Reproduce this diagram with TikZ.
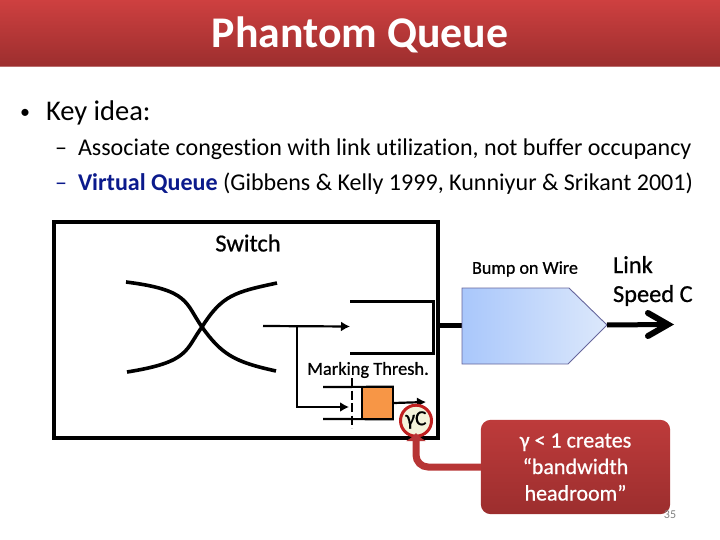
\documentclass[tikz,border=0pt]{standalone}
\usepackage{fontspec}
\setmainfont[Ligatures=NoCommon]{Carlito}
\newfontfamily\semib[Ligatures=NoCommon,FakeBold=0.7]{Carlito}
\usetikzlibrary{arrows.meta}
\definecolor{redtop}{HTML}{CE4040}
\definecolor{redbot}{HTML}{9C2E2E}
\definecolor{navy}{HTML}{0B1A8C}
\definecolor{capred}{HTML}{B73535}
\definecolor{ringred}{HTML}{C02020}
\definecolor{boxorange}{HTML}{F79646}
\definecolor{pl}{HTML}{A9C7FB}
\definecolor{pr}{HTML}{DCE8FB}
\tikzset{
  x=1pt,y=-1pt,
  flow/.style={line width=2.2pt,black,-{Latex[length=9pt,width=10pt]}},
  curve/.style={line width=3.6pt,black},
  txt/.style={inner sep=0pt,outer sep=0pt,text=black},
  body/.style={txt,anchor=base west,font=\fontsize{24.05}{28}\selectfont},
}
\begin{document}
\begin{tikzpicture}
\useasboundingbox (0,0) rectangle (720,540);
% title
\path[top color=redtop,bottom color=redbot,draw=none] (0,0) rectangle (720,66.5);
\draw[redbot!70!white,line width=.8pt] (0,66.5) -- (720,66.5);
\node[txt,text=white,font=\fontsize{43.8}{50}\selectfont\bfseries,anchor=base] (title) at (360,48) {Phantom Queue};
% bullets
\node[txt,anchor=base west,font=\fontsize{20}{30}\selectfont] (b0) at (20,119) {•};
\node[txt,anchor=base west,font=\fontsize{28.5}{33}\selectfont] (b1) at (46,121) {Key idea:};
\node[body] (d1) at (55,156) {–};
\node[body] (l1) at (78,156) {Associate congestion with link utilization, not buffer occupancy};
\node[body] (d2) at (55,191) {\textcolor{navy}{–}};
\node[body] (l2) at (78,191) {\textcolor{navy}{\bfseries Virtual Queue} (Gibbens \& Kelly 1999, Kunniyur \& Srikant 2001)};
% switch box
\node[draw=black,line width=4pt,minimum width=384pt,minimum height=215pt,inner sep=0pt] (sw) at (245.5,330) {};
\node[txt,font=\semib\fontsize{24.5}{28}\selectfont] (swt) at (248,243) {Switch};
% crossbar
\coordinate (a1) at (126,282); \coordinate (a2) at (276,371);
\coordinate (c1) at (127,372); \coordinate (c2) at (277,283);
\draw[curve] (a1) .. controls (190,290) and (185,303) .. (202,327) .. controls (222,355) and (235,362) .. (a2);
\draw[curve] (c1) .. controls (190,362) and (185,350) .. (202,327) .. controls (222,295) and (235,292) .. (c2);
% output queue
\coordinate (q1) at (350,301); \coordinate (q2) at (433,301); \coordinate (q3) at (433,353); \coordinate (q4) at (350,353);
\draw[line width=3pt,miter limit=10] (q1) -- (q2) -- (q3) -- (q4);
\coordinate (f0) at (263,326); \coordinate (f1) at (297,326); \coordinate (f2) at (350,326.5); \coordinate (f3) at (297,407); \coordinate (f4) at (349,407);
\draw[flow] (f0) -- (f2);
\draw[flow] (f1) -- (f3) -- (f4);
% marking
\node[txt,font=\semib\fontsize{18.4}{21}\selectfont] (mtt) at (368,370) {Marking Thresh.};
\node[draw=black,line width=1.5pt,fill=boxorange,minimum width=31pt,minimum height=31pt,inner sep=0pt] (ob) at (377.5,403) {};
\coordinate (s1) at (323,387); \coordinate (s2) at (323,419);
\draw[line width=2.2pt] (s1) -- (ob.north east);
\draw[line width=2.2pt] (s2) -- (ob.south east);
\coordinate (dt) at (352,378); \coordinate (db) at (352,428);
\draw[line width=2.4pt,dash pattern=on 9pt off 3.5pt] (dt) -- (db);
\coordinate (o2) at (426,402);
\draw[line width=2.2pt,-{Latex[length=9pt,width=10pt]}] (ob.east) -- (o2);
% bump on wire
\node[txt,font=\semib\fontsize{18.1}{21}\selectfont] (bw) at (525,269) {Bump on Wire};
\coordinate (p1) at (462,288); \coordinate (p2) at (569,288); \coordinate (p3) at (607,325); \coordinate (p4) at (568,364); \coordinate (p5) at (462,364);
\draw[line width=5pt] (sw.east |- p3) -- (p1 |- p3);
\path[left color=pl,right color=pr,draw=none] (p1) -- (p2) -- (p3) -- (p4) -- (p5) -- cycle;
\draw[draw=blue!35!black!60!white,line width=.9pt] (p1) -- (p2) -- (p3) -- (p4) -- (p5) -- cycle;
\coordinate (lk) at (668,324.5); \coordinate (h1) at (648,313); \coordinate (h2) at (648,336);
\draw[line width=5pt] (p3) -- (lk);
\draw[line width=6pt,line cap=round,line join=miter] (h1) -- (lk) -- (h2);
\node[txt,anchor=base west,font=\semib\fontsize{24.4}{27}\selectfont] (ls) at (613,273) {Link};
\node[txt,anchor=base west,font=\semib\fontsize{24.4}{27}\selectfont] (ls2) at (613,302) {Speed C};
% callout
\node[fill=none,minimum width=189pt,minimum height=94pt,inner sep=0pt] (co) at (575.5,467) {};
\path[top color=redtop!92!black,bottom color=redbot,rounded corners=10pt] (co.north west) rectangle (co.south east);
\node[txt,text=white,align=center,font=\semib\fontsize{22}{26.5}\selectfont] (cot) at (575.5,467) {\char"03B3{} < 1 creates\\“bandwidth\\headroom”};
\node[draw=ringred,line width=3pt,fill=white!90!olive,circle,minimum size=31pt,inner sep=0pt] (g) at (416,420.7) {};
\node[txt,font=\semib\fontsize{21.5}{24}\selectfont] (gt) at (416,420) {\char"03B3 C};
\coordinate (tp) at (416,433);
\draw[capred,line width=7pt,rounded corners=12pt,-{Latex[length=8pt,width=21pt]}] (co.west |- 0,467) -- (416,467) -- (tp);
\node[txt,text=black!50,font=\fontsize{12}{14}\selectfont] (pg) at (670,514.5) {35};
\end{tikzpicture}
\end{document}
